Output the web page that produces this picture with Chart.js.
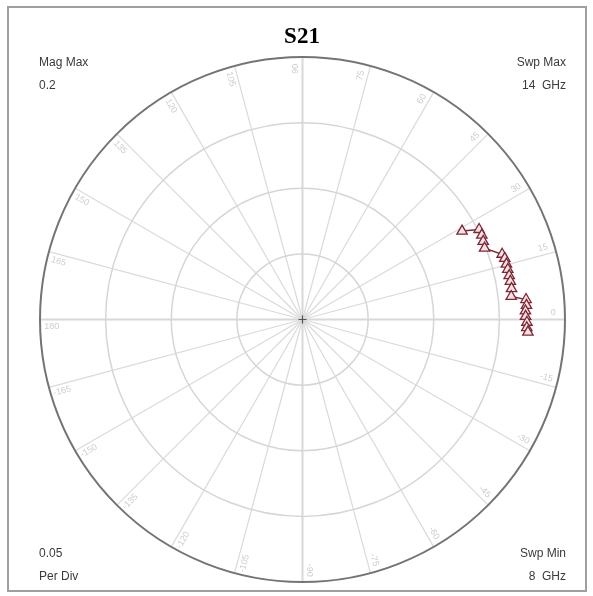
<!DOCTYPE html>
<html>
<head>
<meta charset="utf-8">
<title>S21</title>
<script src="https://cdn.jsdelivr.net/npm/chart.js@4/dist/chart.umd.min.js"></script>
<style>
  html, body { margin: 0; padding: 0; background: #ffffff; }
  #wrap { width: 593px; height: 596px; position: relative; }
</style>
</head>
<body>
<div id="wrap"><canvas id="chart" width="593" height="596"></canvas></div>
<script>
// S21 trace, 8 GHz to 14 GHz: linear magnitude and phase (degrees)
const s21Mag = [0.139, 0.151, 0.151, 0.150, 0.149, 0.160, 0.161, 0.161, 0.161, 0.161,
                0.161, 0.161, 0.160, 0.171, 0.171, 0.170, 0.170, 0.171, 0.171, 0.172];
const s21Phase = [29.0, 27.0, 25.2, 23.4, 21.4, 18.1, 16.8, 15.2, 13.7, 12.0,
                  10.4, 8.4, 6.3, 5.1, 3.6, 2.2, 0.8, -0.7, -2.1, -3.2];

// Polar grid: magnitude rings and phase spokes
const magMax = 0.2;
const magRings = [0.05, 0.1, 0.15, 0.2];
const phaseSpokes = [0, 15, 30, 45, 60, 75, 90, 105, 120, 135, 150, 165, 180,
                     -165, -150, -135, -120, -105, -90, -75, -60, -45, -30, -15];
const phaseLabels = ['0', '15', '30', '45', '60', '75', '90', '105', '120', '135', '150', '165', '180',
                     '-165', '-150', '-135', '-120', '-105', '-90', '-75', '-60', '-45', '-30', '-15'];

// Corner annotations
const titleText = 'S21';
const topLeft = ['Mag Max', '0.2'];
const topRight = ['Swp Max', '14  GHz'];
const bottomLeft = ['0.05', 'Per Div'];
const bottomRight = ['Swp Min', '8  GHz'];

const toRad = d => d * Math.PI / 180;
const tracePoints = s21Mag.map((m, i) => ({
  x: m * Math.cos(toRad(s21Phase[i])),
  y: m * Math.sin(toRad(s21Phase[i]))
}));

const polarGrid = {
  id: 'polarGrid',
  beforeDatasetsDraw(chart) {
    const ctx = chart.ctx;
    const xs = chart.scales.x, ys = chart.scales.y;
    const cx = xs.getPixelForValue(0), cy = ys.getPixelForValue(0);
    const rpx = v => xs.getPixelForValue(v) - cx;

    ctx.save();
    // frame
    ctx.strokeStyle = '#a0a0a0';
    ctx.lineWidth = 2;
    ctx.strokeRect(8, 7, 578, 584);

    // spokes
    phaseSpokes.forEach(a => {
      const main = (a % 90 === 0);
      ctx.strokeStyle = main ? '#d8d8d8' : '#dadada';
      ctx.lineWidth = main ? 2 : 1.2;
      ctx.beginPath();
      ctx.moveTo(cx, cy);
      ctx.lineTo(xs.getPixelForValue(magMax * Math.cos(toRad(a))),
                 ys.getPixelForValue(magMax * Math.sin(toRad(a))));
      ctx.stroke();
    });

    // rings
    magRings.forEach(m => {
      const outer = m === magMax;
      ctx.strokeStyle = outer ? '#747474' : '#d6d6d6';
      ctx.lineWidth = outer ? 2 : 1.5;
      ctx.beginPath();
      ctx.arc(cx, cy, rpx(m), 0, Math.PI * 2);
      ctx.stroke();
    });

    // centre cross
    ctx.strokeStyle = '#555555';
    ctx.lineWidth = 1.2;
    ctx.beginPath();
    ctx.moveTo(cx - 4, cy); ctx.lineTo(cx + 4, cy);
    ctx.moveTo(cx, cy - 4); ctx.lineTo(cx, cy + 4);
    ctx.stroke();

    // phase labels, set just inside the outer ring on the leading side of each spoke
    ctx.fillStyle = '#cdcdcd';
    ctx.font = '9px "Liberation Sans", Arial, sans-serif';
    ctx.textBaseline = 'middle';
    phaseSpokes.forEach((a, i) => {
      const t = toRad(a);
      const px = xs.getPixelForValue(magMax * 0.955 * Math.cos(t));
      const py = ys.getPixelForValue(magMax * 0.955 * Math.sin(t));
      const ox = -Math.sin(t) * 7, oy = -Math.cos(t) * 7;
      ctx.save();
      ctx.translate(px + ox, py + oy);
      let rot = -t;
      if (Math.cos(t) < -0.01) rot += Math.PI;
      ctx.rotate(rot);
      ctx.textAlign = 'center';
      ctx.fillText(phaseLabels[i], 0, 0);
      ctx.restore();
    });

    // title
    ctx.fillStyle = '#000000';
    ctx.font = 'bold 23px "Liberation Serif", "Times New Roman", serif';
    ctx.textAlign = 'center';
    ctx.textBaseline = 'middle';
    ctx.fillText(titleText, 302, 37);

    // corner text
    ctx.fillStyle = '#3a3a3a';
    ctx.font = '12px "Liberation Sans", Arial, sans-serif';
    ctx.textAlign = 'left';
    ctx.fillText(topLeft[0], 39, 63);
    ctx.fillText(topLeft[1], 39, 86);
    ctx.fillText(bottomLeft[0], 39, 554);
    ctx.fillText(bottomLeft[1], 39, 577);
    ctx.textAlign = 'right';
    ctx.fillText(topRight[0], 566, 63);
    ctx.fillText(topRight[1], 566, 86);
    ctx.fillText(bottomRight[0], 566, 554);
    ctx.fillText(bottomRight[1], 566, 577);
    ctx.restore();
  }
};

new Chart(document.getElementById('chart'), {
  type: 'scatter',
  data: {
    datasets: [{
      label: 'S21',
      data: tracePoints,
      showLine: true,
      borderColor: '#7e2634',
      borderWidth: 1.5,
      pointStyle: 'triangle',
      pointRadius: 6,
      pointBorderWidth: 1.3,
      pointBorderColor: '#7e2634',
      pointBackgroundColor: '#f5e4e6'
    }]
  },
  options: {
    responsive: false,
    animation: false,
    layout: { padding: { left: 40, right: 28, top: 57, bottom: 14 } },
    scales: {
      x: { type: 'linear', min: -magMax, max: magMax, display: false },
      y: { type: 'linear', min: -magMax, max: magMax, display: false }
    },
    plugins: {
      legend: { display: false },
      tooltip: { enabled: false }
    }
  },
  plugins: [polarGrid]
});
</script>
</body>
</html>
